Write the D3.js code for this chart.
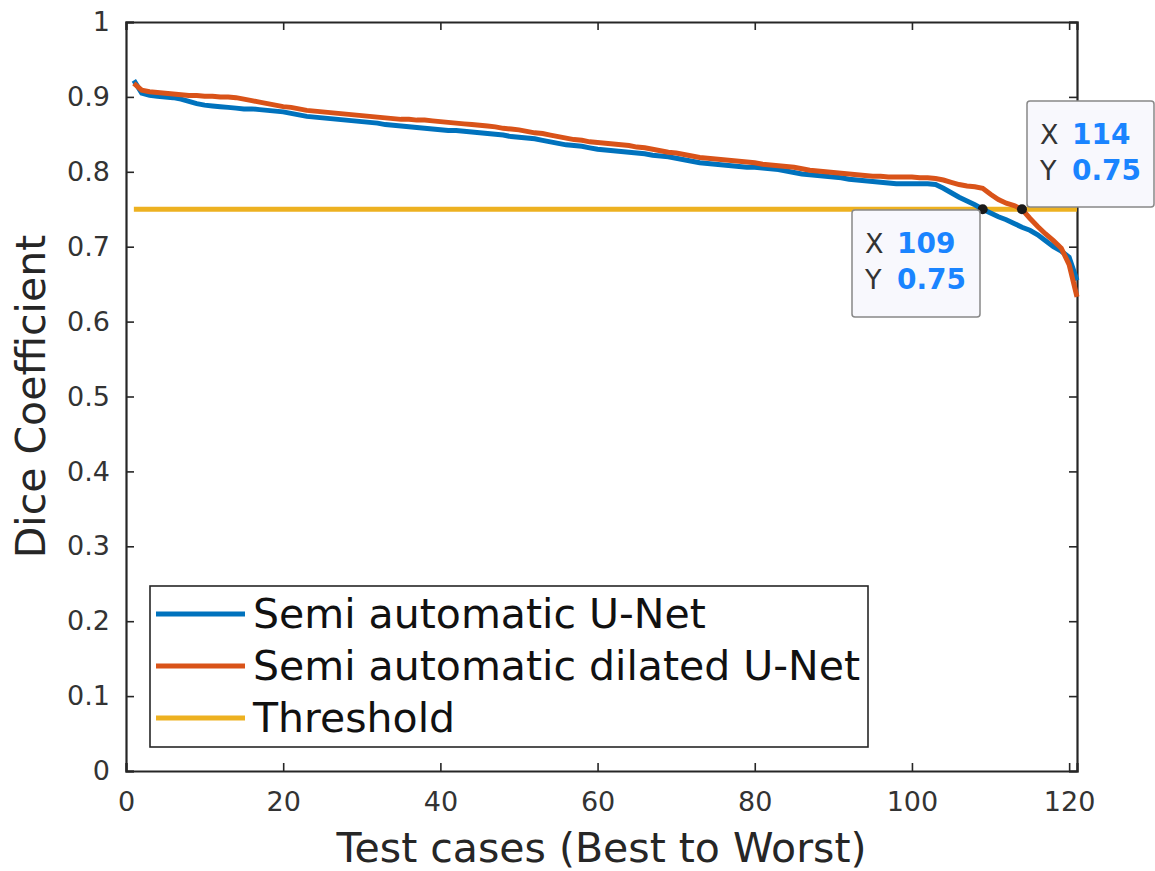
<!DOCTYPE html>
<html>
<head>
<meta charset="utf-8">
<script src="https://cdn.jsdelivr.net/npm/d3@7"></script>
<style>
  body { margin: 0; background: #fff; }
  text { font-family: "DejaVu Sans", sans-serif; }
</style>
</head>
<body>
<div id="chart"></div>
<script>
// data (case index 1..121, dice coefficient)
var unet = [
  0.922, 0.905, 0.902, 0.901, 0.900, 0.899, 0.897, 0.894, 0.891, 0.889,
  0.888, 0.887, 0.886, 0.885, 0.884, 0.884, 0.883, 0.882, 0.881, 0.880,
  0.878, 0.876, 0.874, 0.873, 0.872, 0.871, 0.870, 0.869, 0.868, 0.867,
  0.866, 0.865, 0.863, 0.862, 0.861, 0.860, 0.859, 0.858, 0.857, 0.856,
  0.855, 0.855, 0.854, 0.853, 0.852, 0.851, 0.850, 0.849, 0.847, 0.846,
  0.845, 0.844, 0.842, 0.840, 0.838, 0.836, 0.835, 0.834, 0.832, 0.830,
  0.829, 0.828, 0.827, 0.826, 0.825, 0.824, 0.822, 0.821, 0.820, 0.818,
  0.816, 0.814, 0.812, 0.811, 0.810, 0.809, 0.808, 0.807, 0.806, 0.806,
  0.805, 0.804, 0.803, 0.801, 0.799, 0.797, 0.796, 0.795, 0.794, 0.793,
  0.792, 0.790, 0.789, 0.788, 0.787, 0.786, 0.785, 0.784, 0.784, 0.784,
  0.784, 0.784, 0.783, 0.778, 0.772, 0.766, 0.761, 0.756, 0.750, 0.745,
  0.740, 0.736, 0.731, 0.726, 0.722, 0.716, 0.708, 0.700, 0.694, 0.686,
  0.655
];
var dilated = [
  0.918, 0.909, 0.907, 0.906, 0.905, 0.904, 0.903, 0.902, 0.902, 0.901,
  0.901, 0.900, 0.900, 0.899, 0.897, 0.895, 0.893, 0.891, 0.889, 0.887,
  0.886, 0.884, 0.882, 0.881, 0.880, 0.879, 0.878, 0.877, 0.876, 0.875,
  0.874, 0.873, 0.872, 0.871, 0.870, 0.870, 0.869, 0.869, 0.868, 0.867,
  0.866, 0.865, 0.864, 0.863, 0.862, 0.861, 0.860, 0.858, 0.857, 0.856,
  0.854, 0.852, 0.851, 0.849, 0.847, 0.845, 0.843, 0.842, 0.840, 0.839,
  0.838, 0.837, 0.836, 0.835, 0.833, 0.832, 0.830, 0.828, 0.826, 0.825,
  0.823, 0.821, 0.819, 0.818, 0.817, 0.816, 0.815, 0.814, 0.813, 0.812,
  0.810, 0.809, 0.808, 0.807, 0.806, 0.804, 0.802, 0.801, 0.800, 0.799,
  0.798, 0.797, 0.796, 0.795, 0.794, 0.794, 0.793, 0.793, 0.793, 0.793,
  0.792, 0.792, 0.791, 0.789, 0.786, 0.783, 0.781, 0.780, 0.778, 0.770,
  0.763, 0.758, 0.755, 0.750, 0.738, 0.727, 0.717, 0.708, 0.698, 0.676,
  0.633
];
var threshold = 0.75;
var series_names = ['Semi automatic U-Net', 'Semi automatic dilated U-Net', 'Threshold'];
var x_ticks = [0, 20, 40, 60, 80, 100, 120];
var y_ticks = [0, 0.1, 0.2, 0.3, 0.4, 0.5, 0.6, 0.7, 0.8, 0.9, 1];
// data tips: [x, y]
var tips = [[109, 0.75], [114, 0.75]];

var colors = ['#0072BD', '#D95319', '#EDB120'];

var chart_width = 1155;
var chart_height = 871;
var plot = { left: 126, top: 22, right: 1077, bottom: 771 };

var svg = d3.select('#chart')
  .append('svg')
  .attr('width', chart_width)
  .attr('height', chart_height);

var x_scale = d3.scaleLinear()
  .domain([0, 121])
  .range([plot.left, plot.right]);

var y_scale = d3.scaleLinear()
  .domain([0, 1])
  .range([plot.bottom, plot.top]);

var axis_color = '#262626';

// axes (matlab style, ticks pointing inward, box on)
var x_axis = d3.axisBottom(x_scale).tickValues(x_ticks).tickSize(-8).tickPadding(21)
  .tickFormat(d3.format('d'));
svg.append('g')
  .attr('class', 'x-axis')
  .attr('transform', 'translate(0,' + plot.bottom + ')')
  .call(x_axis);

var y_axis = d3.axisLeft(y_scale).tickValues(y_ticks).tickSize(-8).tickPadding(16)
  .tickFormat(function(d) { return d === 0 || d === 1 ? d : d3.format('.1f')(d); });
svg.append('g')
  .attr('class', 'y-axis')
  .attr('transform', 'translate(' + plot.left + ',0)')
  .call(y_axis);

svg.append('g')
  .attr('transform', 'translate(0,' + plot.top + ')')
  .call(d3.axisTop(x_scale).tickValues(x_ticks).tickSize(-8).tickFormat(''));
svg.append('g')
  .attr('transform', 'translate(' + plot.right + ',0)')
  .call(d3.axisRight(y_scale).tickValues(y_ticks).tickSize(-8).tickFormat(''));

svg.selectAll('.domain').attr('stroke', axis_color).attr('stroke-width', 2.2);
svg.selectAll('.tick line').attr('stroke', axis_color).attr('stroke-width', 1.6);
svg.selectAll('.tick text')
  .attr('fill', '#333')
  .style('font-size', '27px')
  .style('font-family', '"DejaVu Sans", sans-serif');

// lines
var line = d3.line()
  .x(function(d, i) { return x_scale(i + 1); })
  .y(function(d) { return y_scale(d); });

svg.append('line')
  .attr('x1', x_scale(1)).attr('x2', x_scale(121))
  .attr('y1', y_scale(threshold)).attr('y2', y_scale(threshold))
  .attr('stroke', colors[2])
  .attr('stroke-width', 5);

[unet, dilated].forEach(function(s, k) {
  svg.append('path')
    .datum(s)
    .attr('d', line)
    .attr('fill', 'none')
    .attr('stroke', colors[k])
    .attr('stroke-width', 5)
    .attr('stroke-linejoin', 'miter');
});

// data tip markers
svg.selectAll('.tip-dot')
  .data(tips)
  .enter()
  .append('circle')
  .attr('class', 'tip-dot')
  .attr('cx', function(d) { return x_scale(d[0]); })
  .attr('cy', function(d) { return y_scale(d[1]); })
  .attr('r', 5)
  .attr('fill', '#1a1a1a');

// data tip boxes: first below-left, second above-right
var tip_boxes = [
  { x: 852, y: 210, w: 128, h: 107 },
  { x: 1027, y: 101, w: 127, h: 106 }
];
tips.forEach(function(t, i) {
  var b = tip_boxes[i];
  var g = svg.append('g');
  g.append('rect')
    .attr('x', b.x).attr('y', b.y)
    .attr('width', b.w).attr('height', b.h)
    .attr('rx', 3)
    .attr('fill', '#f8f8fd')
    .attr('stroke', '#888')
    .attr('stroke-width', 1.5);
  var rows = [['X', t[0]], ['Y', d3.format('.2f')(t[1])]];
  rows.forEach(function(r, j) {
    var ty = b.y + 43 + j * 36;
    g.append('text')
      .attr('x', b.x + 13).attr('y', ty)
      .attr('fill', '#333')
      .style('font-size', '27px')
      .text(r[0]);
    g.append('text')
      .attr('x', b.x + 45).attr('y', ty)
      .attr('fill', '#1a84ff')
      .style('font-size', '28px')
      .style('font-weight', 'bold')
      .text(r[1]);
  });
});

// legend
var legend = svg.append('g');
legend.append('rect')
  .attr('x', 150).attr('y', 586)
  .attr('width', 718).attr('height', 161)
  .attr('fill', '#fff')
  .attr('stroke', axis_color)
  .attr('stroke-width', 1.6);
series_names.forEach(function(name, i) {
  var ly = 614 + i * 52;
  legend.append('line')
    .attr('x1', 156).attr('x2', 245)
    .attr('y1', ly).attr('y2', ly)
    .attr('stroke', colors[i])
    .attr('stroke-width', 5);
  legend.append('text')
    .attr('x', 253).attr('y', ly)
    .attr('dy', '0.35em')
    .attr('fill', '#111')
    .style('font-size', '41px')
    .text(name);
});

// axis labels
svg.append('text')
  .attr('x', (plot.left + plot.right) / 2)
  .attr('y', 862)
  .attr('text-anchor', 'middle')
  .attr('fill', axis_color)
  .style('font-size', '41px')
  .text('Test cases (Best to Worst)');

svg.append('text')
  .attr('transform', 'translate(45,' + ((plot.top + plot.bottom) / 2) + ') rotate(-90)')
  .attr('text-anchor', 'middle')
  .attr('fill', axis_color)
  .style('font-size', '41px')
  .text('Dice Coefficient');
</script>
</body>
</html>
